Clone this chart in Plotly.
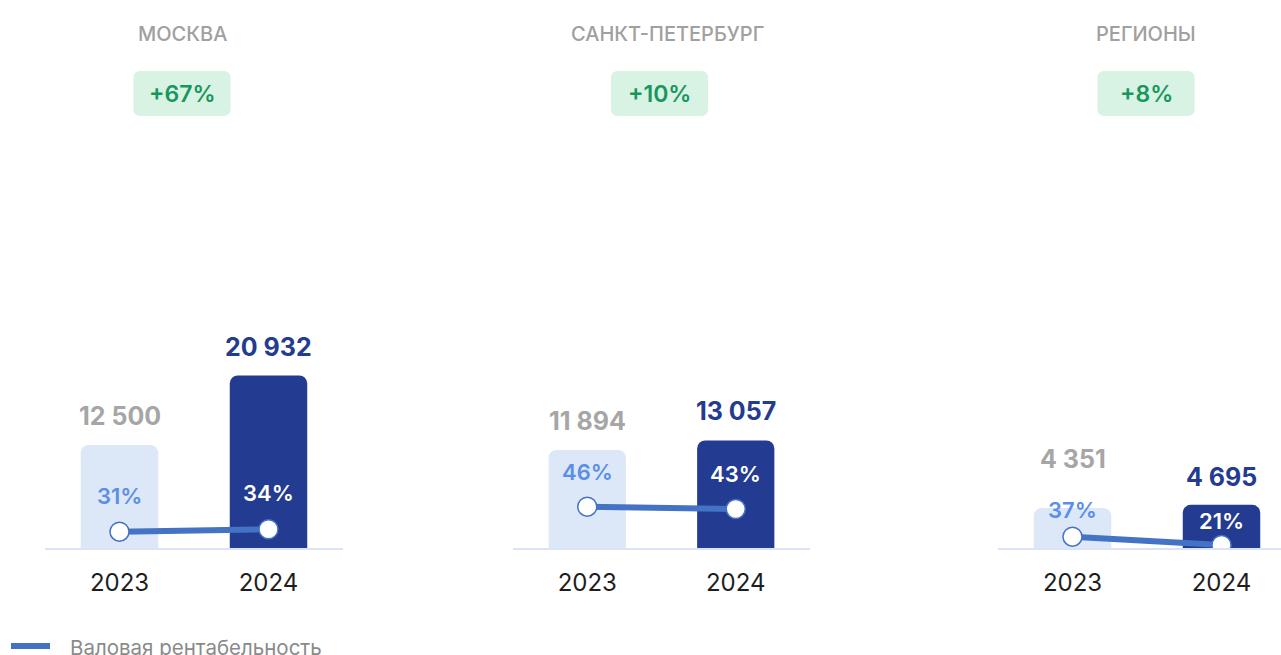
import plotly.graph_objects as go

# data
REGIONS = ["МОСКВА", "САНКТ-ПЕТЕРБУРГ", "РЕГИОНЫ"]
GROWTH = ["+67%", "+10%", "+8%"]
YEARS = ["2023", "2024"]
REVENUE_2023 = [12500, 11894, 4351]
REVENUE_2024 = [20932, 13057, 4695]
MARGIN_2023 = [31, 46, 37]
MARGIN_2024 = [34, 43, 21]
LEGEND_NAME = "Валовая рентабельность"

W, H = 1281, 655
FONT = "Inter"
LIGHT = "#dce7f8"
NAVY = "#233b90"
LINE = "#4472c4"

# layout tweaks (pixels)
X_DOMAINS = [[45 / W, 343 / W], [513 / W, 810 / W], [998 / W, 1]]
X_RANGES = [[-0.5, 1.5], [-0.5, 1.5], [-0.5, -0.5 + 283 / 149]]
Y_DOMAIN = [1 - 548 / H, 1 - 150 / H]
BAR_RANGES = [[0, 48300], [0, 48300], [0, 43260]]
MARGIN_RANGES = [[10.6, 508], [-7.9, 511], [15.2, 782]]
TITLE_X = [182, 667, 1146]
BADGE_X = [182, 659.5, 1146]
VALUE_SHIFT = [[29, 29], [29, 29], [49, 28]]
PCT_SHIFT = [[36, 36], [35, 35], [27, 24]]


def rrect(cx, cy, w, h, r):
    x0, x1 = (cx - w / 2) / W, (cx + w / 2) / W
    y0, y1 = 1 - (cy + h / 2) / H, 1 - (cy - h / 2) / H
    rx, ry = r / W, r / H
    return (f"M{x0 + rx},{y0} L{x1 - rx},{y0} Q{x1},{y0} {x1},{y0 + ry} "
            f"L{x1},{y1 - ry} Q{x1},{y1} {x1 - rx},{y1} L{x0 + rx},{y1} "
            f"Q{x0},{y1} {x0},{y1 - ry} L{x0},{y0 + ry} Q{x0},{y0} {x0 + rx},{y0} Z")


def fmt(v):
    return f"{v:,}".replace(",", " ")


fig = go.Figure()
annotations = []
shapes = []
layout_axes = {}

for i in range(3):
    sfx = "" if i == 0 else str(i + 1)
    xa, ya, ym = "x" + sfx, "y" + sfx, "y" + str(i + 4)
    revenue = [REVENUE_2023[i], REVENUE_2024[i]]
    margin = [MARGIN_2023[i], MARGIN_2024[i]]

    fig.add_trace(go.Bar(
        x=YEARS, y=revenue, width=0.52,
        marker=dict(color=[LIGHT, NAVY], line=dict(width=0)),
        xaxis=xa, yaxis=ya, showlegend=False, hoverinfo="skip"
    ))
    fig.add_trace(go.Scatter(
        x=YEARS, y=margin, mode="lines+markers",
        line=dict(color=LINE, width=6),
        marker=dict(size=19, color="white", line=dict(color=LINE, width=1.5)),
        xaxis=xa, yaxis=ym, showlegend=False, hoverinfo="skip"
    ))

    layout_axes["xaxis" + sfx] = dict(
        domain=X_DOMAINS[i], range=X_RANGES[i], type="category", anchor=ya,
        showline=True, linecolor="#dde3f6", linewidth=2, showgrid=False,
        zeroline=False, ticks="", ticklabelstandoff=12,
        tickfont=dict(family=FONT, size=24, color="#1e1e1e"), fixedrange=True
    )
    layout_axes["yaxis" + sfx] = dict(
        domain=Y_DOMAIN, range=BAR_RANGES[i], anchor=xa, visible=False, fixedrange=True
    )
    layout_axes["yaxis" + str(i + 4)] = dict(
        overlaying=ya, range=MARGIN_RANGES[i], anchor=xa, visible=False, fixedrange=True
    )

    for j in range(2):
        # x given as category index, "2023" would be read as a number
        annotations.append(dict(
            x=j, y=revenue[j], xref=xa, yref=ya, text=fmt(revenue[j]),
            showarrow=False, xanchor="center", yanchor="middle",
            yshift=VALUE_SHIFT[i][j],
            font=dict(family=FONT, size=25, weight=700,
                      color="#a6a6a6" if j == 0 else NAVY)
        ))
        annotations.append(dict(
            x=j, y=margin[j], xref=xa, yref=ym, text=f"{margin[j]}%",
            showarrow=False, xanchor="center", yanchor="middle",
            yshift=PCT_SHIFT[i][j],
            font=dict(family=FONT, size=22, weight=600,
                      color="#5b8ee6" if j == 0 else "white")
        ))

    # panel title and growth badge
    annotations.append(dict(
        x=TITLE_X[i] / W, y=1 - 34.5 / H, xref="paper", yref="paper",
        text=REGIONS[i], showarrow=False, xanchor="center", yanchor="middle",
        font=dict(family=FONT, size=20, weight=500, color="#a0a0a0")
    ))
    shapes.append(dict(type="path", xref="paper", yref="paper",
                       path=rrect(BADGE_X[i], 93.5, 97, 45, 7),
                       fillcolor="#d8f2e3", line=dict(width=0), layer="below"))
    annotations.append(dict(
        x=BADGE_X[i] / W, y=1 - 93.5 / H, xref="paper", yref="paper",
        text=GROWTH[i], showarrow=False, xanchor="center", yanchor="middle",
        font=dict(family=FONT, size=23, weight=600, color="#17975e")
    ))

# legend
shapes.append(dict(type="line", xref="paper", yref="paper",
                   x0=11 / W, x1=50 / W, y0=1 - 646 / H, y1=1 - 646 / H,
                   line=dict(color=LINE, width=6)))
annotations.append(dict(
    x=68 / W, y=1 - 647 / H, xref="paper", yref="paper", text=LEGEND_NAME,
    showarrow=False, xanchor="left", yanchor="middle",
    font=dict(family=FONT, size=20.5, color="#8a8a8a")
))

fig.update_layout(
    width=W, height=H,
    margin=dict(l=0, r=0, t=0, b=0),
    paper_bgcolor="white", plot_bgcolor="white",
    barcornerradius=8,
    annotations=annotations, shapes=shapes,
    **layout_axes
)

fig.write_html("out.html", config={"displayModeBar": False},
               post_script="document.body.style.margin='0';document.body.style.overflow='hidden';")
